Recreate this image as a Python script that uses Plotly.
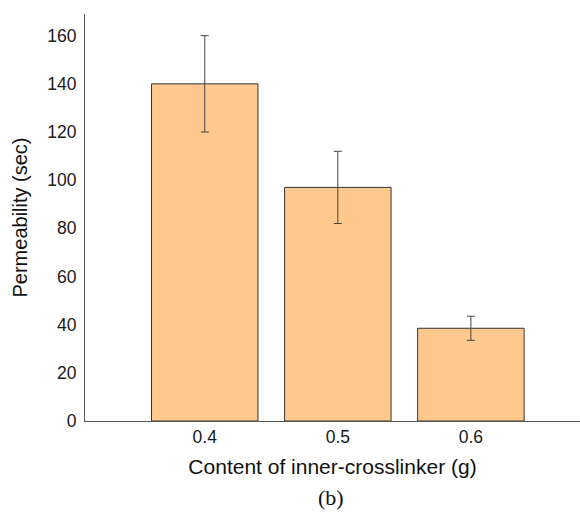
import plotly.graph_objects as go

# Permeability vs. inner-crosslinker content
categories = ["0.4", "0.5", "0.6"]
permeability = [140, 97, 38.5]
errors = [20, 15, 5]

positions = list(range(len(categories)))

fig = go.Figure()
fig.add_trace(go.Bar(
    x=positions,
    y=permeability,
    width=0.8,
    marker=dict(color="#FFC98E", line=dict(color="#333333", width=1)),
    error_y=dict(type="data", array=errors, visible=True,
                 color="#444444", thickness=1, width=4),
    showlegend=False,
))

fig.update_layout(
    width=580, height=512,
    margin=dict(l=85, r=0, t=14, b=91),
    plot_bgcolor="white", paper_bgcolor="white",
    font=dict(family="Liberation Sans, Arial, sans-serif", color="#1a1a1a"),
    xaxis=dict(
        range=[-0.9, 2.82],
        tickvals=positions, ticktext=categories,
        showline=True, linecolor="#555555", linewidth=1,
        showgrid=False, zeroline=False, ticks="",
        tickfont=dict(size=17.5),
        title=dict(text="Content of inner-crosslinker (g)",
                   font=dict(size=21, color="#111111"), standoff=13),
    ),
    yaxis=dict(
        range=[0, 169],
        tickvals=[0, 20, 40, 60, 80, 100, 120, 140, 160],
        showline=True, linecolor="#555555", linewidth=1,
        showgrid=False, zeroline=False, ticks="",
        tickfont=dict(size=17.5),
        ticklabelstandoff=4,
        title=dict(text="Permeability (sec)",
                   font=dict(size=20, color="#111111"), standoff=14),
    ),
    annotations=[dict(
        text="(b)", xref="paper", yref="paper",
        x=(331 - 85) / 495, y=-(497 - 421) / 407,
        xanchor="center", yanchor="middle", showarrow=False,
        font=dict(family="Liberation Serif, Times New Roman, serif",
                  size=22, color="#111111"),
    )],
)

fig.write_html("out.html")
